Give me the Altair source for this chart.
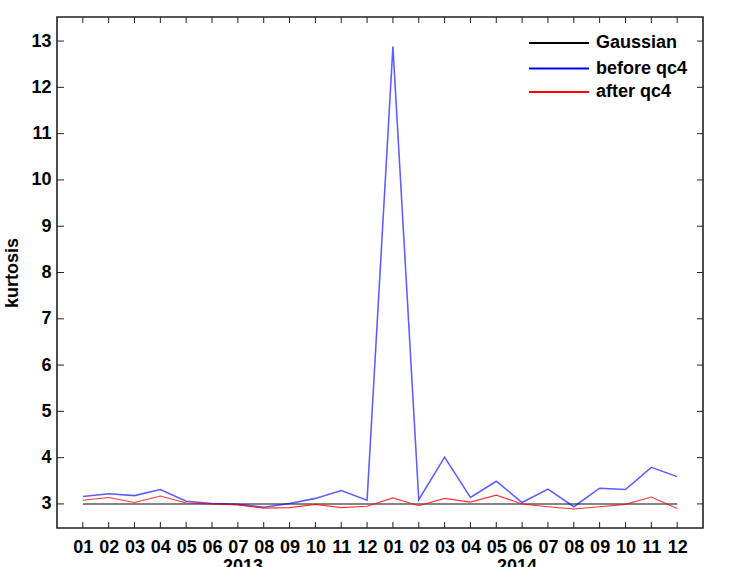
import altair as alt
import pandas as pd

# Monthly kurtosis, Jan 2013 .. Dec 2014
month_index = list(range(1, 25))
month_labels = ["01", "02", "03", "04", "05", "06", "07", "08", "09", "10", "11", "12"] * 2
gaussian = [3.0] * 24
before_qc4 = [3.16, 3.22, 3.18, 3.31, 3.06, 3.01, 2.99, 2.93, 3.01, 3.12, 3.29, 3.08,
              12.88, 3.09, 4.01, 3.14, 3.49, 3.03, 3.32, 2.94, 3.34, 3.31, 3.79, 3.59]
after_qc4 = [3.08, 3.14, 3.03, 3.17, 3.02, 3.00, 2.98, 2.91, 2.92, 2.99, 2.92, 2.95,
             3.13, 2.96, 3.12, 3.04, 3.19, 3.00, 2.94, 2.89, 2.94, 2.99, 3.15, 2.90]
series_names = ["Gaussian", "before qc4", "after qc4"]
series_colors = ["black", "blue", "red"]
years = ["2013", "2014"]
year_centers = [7.2, 17.8]
y_ticks = [3, 4, 5, 6, 7, 8, 9, 10, 11, 12, 13]

W, H = 646, 511
FONT = "Liberation Sans"
FS = 18

rows = []
for name, vals in zip(series_names, [gaussian, before_qc4, after_qc4]):
    for m, v in zip(month_index, vals):
        rows.append({"month": m, "kurtosis": v, "series": name})
df = pd.DataFrame(rows)

x_scale = alt.Scale(domain=[0, 25], nice=False, zero=False)
y_scale = alt.Scale(domain=[2.48, 13.52], nice=False, zero=False)

label_js = "[" + ",".join("'%s'" % s for s in month_labels) + "]"

# one axis definition shared by every layer, so merged axes agree
x_axis = alt.Axis(
    values=month_index, labelExpr=label_js + "[datum.value - 1]",
    title=None, ticks=False, tickSize=0, domain=False, grid=False,
    labelFontSize=FS, labelFont=FONT, labelFontWeight="bold", labelColor="black",
    labelPadding=10, labelFlush=False, labelOverlap=False, labelSeparation=0)
y_axis = alt.Axis(
    values=y_ticks, title="kurtosis", ticks=False, tickSize=0, domain=False, grid=False,
    labelFontSize=FS, labelFont=FONT, labelFontWeight="bold", labelColor="black",
    labelPadding=6, labelFlush=False, labelOverlap=False,
    titleFontSize=FS, titleFont=FONT, titleFontWeight="bold", titleColor="black",
    titleAngle=270, titleX=-40, titleY=H / 2, titleBaseline="alphabetic",
    titleAlign="center")

x_enc = alt.X("month:Q", scale=x_scale, axis=x_axis)
y_enc = alt.Y("kurtosis:Q", scale=y_scale, axis=y_axis)

lines = alt.Chart(df).mark_line().encode(
    x=x_enc,
    y=y_enc,
    color=alt.Color("series:N", sort=series_names,
                    scale=alt.Scale(domain=series_names, range=series_colors),
                    legend=None),
    strokeWidth=alt.StrokeWidth("series:N",
                                scale=alt.Scale(domain=series_names, range=[2, 1.1, 1.5]),
                                legend=None),
    opacity=alt.Opacity("series:N",
                        scale=alt.Scale(domain=series_names, range=[0.48, 0.8, 0.62]),
                        legend=None),
    order=alt.Order("month:Q"),
)

# inward tick marks on all four sides of the frame
xt = pd.DataFrame({"month": month_index})
yt = pd.DataFrame({"kurtosis": y_ticks})
tick_style = dict(color="#222222", strokeWidth=1)
x_bottom = alt.Chart(xt).mark_rule(**tick_style).encode(
    x=x_enc, y=alt.value(H), y2=alt.value(H - 6))
x_top = alt.Chart(xt).mark_rule(**tick_style).encode(
    x=x_enc, y=alt.value(0), y2=alt.value(6))
y_left = alt.Chart(yt).mark_rule(**tick_style).encode(
    y=y_enc, x=alt.value(0), x2=alt.value(7))
y_right = alt.Chart(yt).mark_rule(**tick_style).encode(
    y=y_enc, x=alt.value(W), x2=alt.value(W - 6))

# year captions under the month labels
yr = pd.DataFrame({"month": year_centers, "year": years})
year_text = alt.Chart(yr).mark_text(
    font=FONT, fontSize=FS, fontWeight="bold", color="black",
    baseline="top", align="center").encode(
    x=x_enc, y=alt.value(541), text="year:N")

# legend: a short line sample and a label per series, top right
legend_rows = [26, 51.5, 75]
legend_layers = []
for name, col, ry in zip(series_names, series_colors, legend_rows):
    ld = pd.DataFrame({"series": [name]})
    legend_layers.append(alt.Chart(ld).mark_rule(color=col, strokeWidth=2).encode(
        x=alt.value(472), x2=alt.value(532), y=alt.value(ry)))
    legend_layers.append(alt.Chart(ld).mark_text(
        font=FONT, fontSize=FS, fontWeight="bold", color="black",
        align="left", baseline="middle").encode(
        x=alt.value(539), y=alt.value(ry), text="series:N"))

chart = alt.layer(lines, x_bottom, x_top, y_left, y_right, year_text,
                  *legend_layers).properties(
    width=W, height=H,
    autosize=alt.AutoSizeParams(type="none"),
    padding={"left": 57, "top": 17, "right": 42, "bottom": 39},
    background="white",
).configure_view(stroke="#222222", strokeWidth=1.6)

chart.save("out.html", embed_options={"renderer": "svg", "actions": False})
